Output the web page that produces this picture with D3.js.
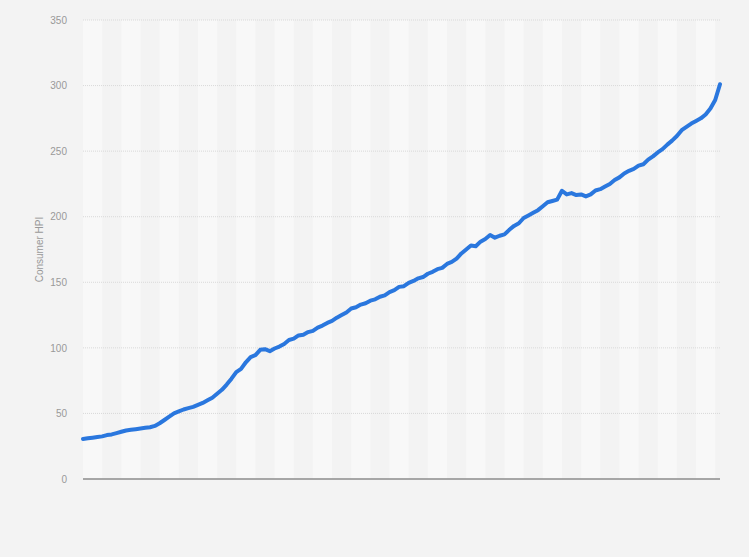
<!DOCTYPE html>
<html>
<head>
<meta charset="utf-8">
<script src="https://cdn.jsdelivr.net/npm/d3@7"></script>
<style>
  body { margin: 0; background: #f3f3f3; }
  svg { display: block; font-family: "Liberation Sans", Arial, sans-serif; }
</style>
</head>
<body>
<div id="chart"></div>
<script>
// quarterly index values
const hpiValues = [
  30.5, 31, 31.5, 32, 32.5, 33.5, 34, 35, 36, 37,
  37.5, 38, 38.5, 39, 39.5, 40.5, 42.5, 45, 47.5, 50,
  51.5, 53, 54, 55, 56.5, 58, 60, 62, 65, 68,
  72, 76.5, 81.5, 84, 89, 93, 94.5, 98.5, 99, 97.5,
  99.5, 101, 103, 106, 107, 109.5, 110, 112, 113, 115.5,
  117, 119, 120.5, 123, 125, 127, 130, 131, 133, 134,
  136, 137, 139, 140, 142.5, 144, 146.5, 147, 149.5, 151,
  153, 154, 156.5, 158, 160, 161, 164, 165.5, 168, 172,
  175, 178, 177.5, 181, 183, 186, 184, 185.5, 186.5, 190,
  193, 195, 199, 201, 203, 205, 208, 211, 212, 213,
  219.8, 217, 218, 216.5, 217, 215.5, 217, 220, 221, 223,
  225, 228, 230, 233, 235, 236.5, 239, 240, 243.5, 246,
  249, 251.5, 255, 258, 261.5, 266, 268.5, 271, 273, 275,
  278, 282.5, 289, 301
];
const yTicks = [0, 50, 100, 150, 200, 250, 300, 350];
const yTitle = "Consumer HPI";

window.onload = function() {
  let width = 749, height = 557;
  let margin = { top: 20, right: 29, bottom: 78, left: 83 };
  let innerW = width - margin.left - margin.right;
  let innerH = height - margin.top - margin.bottom;

  let svg = d3.select("#chart")
    .append("svg")
      .attr("width", width)
      .attr("height", height);

  svg.append("rect")
    .attr("width", width)
    .attr("height", height)
    .attr("fill", "#f3f3f3");

  let g = svg.append("g")
    .attr("transform", "translate(" + margin.left + "," + margin.top + ")");

  let xScale = d3.scaleLinear()
    .domain([0, hpiValues.length - 1])
    .range([0, innerW]);

  let yScale = d3.scaleLinear()
    .domain([0, 350])
    .range([innerH, 0]);

  // alternating year bands (4 quarters each), every other one lighter
  let bandStarts = d3.range(0, hpiValues.length - 1, 8);
  g.selectAll(".band")
    .data(bandStarts)
    .enter()
    .append("rect")
      .attr("class", "band")
      .attr("x", d => xScale(d))
      .attr("y", 0)
      .attr("width", d => xScale(Math.min(d + 4, hpiValues.length - 1)) - xScale(d))
      .attr("height", innerH)
      .attr("fill", "#f8f8f8");

  // dotted grid lines
  g.selectAll(".grid")
    .data(yTicks.filter(d => d > 0))
    .enter()
    .append("line")
      .attr("class", "grid")
      .attr("x1", 0)
      .attr("x2", innerW)
      .attr("y1", d => yScale(d))
      .attr("y2", d => yScale(d))
      .attr("stroke", "#d9d9d9")
      .attr("stroke-width", 1)
      .attr("stroke-dasharray", "1,1");

  // y axis labels
  let yAxis = d3.axisLeft(yScale)
    .tickValues(yTicks)
    .tickSize(0)
    .tickPadding(16);
  let yAxisG = g.append("g").call(yAxis);
  yAxisG.select(".domain").remove();
  yAxisG.selectAll("text")
    .attr("fill", "#999")
    .style("font-size", "10px");

  // baseline
  g.append("line")
    .attr("x1", 0)
    .attr("x2", innerW)
    .attr("y1", yScale(0))
    .attr("y2", yScale(0))
    .attr("stroke", "#8c8c8c")
    .attr("stroke-width", 1.6);

  // y title
  svg.append("text")
    .attr("transform", "translate(43," + (margin.top + innerH / 2) + ")rotate(-90)")
    .attr("text-anchor", "middle")
    .attr("fill", "#999")
    .style("font-size", "10px")
    .text(yTitle);

  let valueLine = d3.line()
    .x((d, i) => xScale(i))
    .y(d => yScale(d));

  g.append("path")
    .attr("d", valueLine(hpiValues))
    .attr("fill", "none")
    .attr("stroke", "#2a77de")
    .attr("stroke-width", 4)
    .attr("stroke-linejoin", "round")
    .attr("stroke-linecap", "round");
};
</script>
</body>
</html>
